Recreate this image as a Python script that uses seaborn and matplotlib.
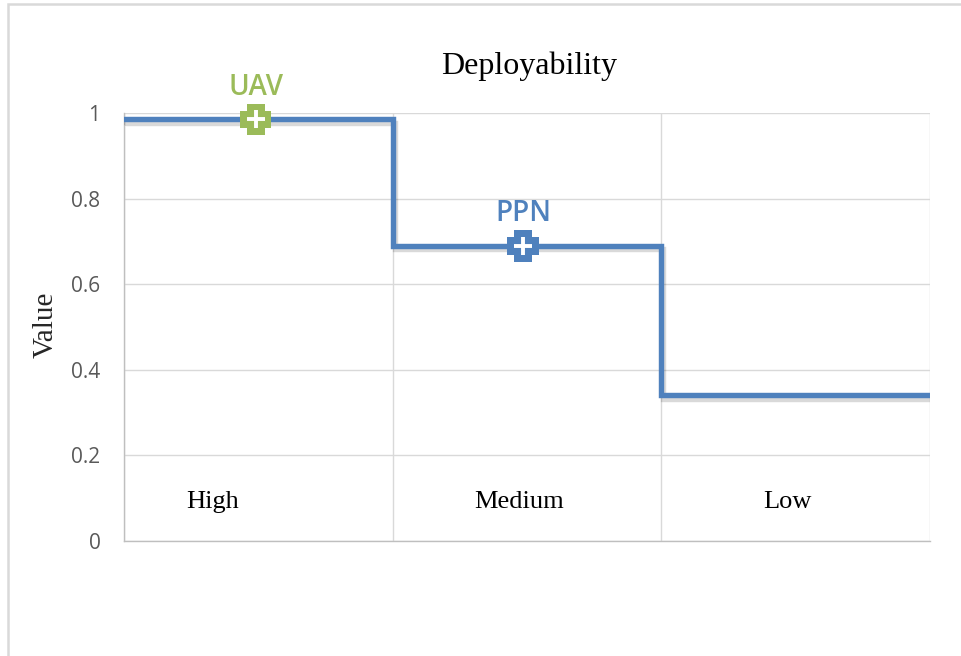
import matplotlib
matplotlib.use("Agg")
import numpy as np
import pandas as pd
import matplotlib.pyplot as plt
import matplotlib.patheffects as pe
from matplotlib.patches import Rectangle
from matplotlib.path import Path
import seaborn as sns

# data
levels = ["High", "Medium", "Low"]
level_values = [0.985, 0.69, 0.34]
level_label_x = [0.33, 1.47, 2.47]
level_label_y = 0.09
systems = ["UAV", "PPN"]
system_x = [0.49, 1.485]
system_values = [0.985, 0.69]
system_colors = ["#9BBB59", "#4F81BD"]
y_ticks = [0, 0.2, 0.4, 0.6, 0.8, 1]
y_tick_labels = ["0", "0.2", "0.4", "0.6", "0.8", "1"]

line_color = "#4F81BD"
grid_color = "#D9D9D9"

# chunky excel style plus marker
a, b = 0.28, 0.5
plus_path = Path([(-a, b), (a, b), (a, a), (b, a), (b, -a), (a, -a), (a, -b),
                  (-a, -b), (-a, -a), (-b, -a), (-b, a), (-a, a), (-a, b)], closed=True)

sns.set_theme(style="white")
plt.rcParams["font.family"] = ["Liberation Serif", "DejaVu Serif"]

fig = plt.figure(figsize=(9.62, 6.56), dpi=100)
ax = fig.add_axes([124 / 962, 115 / 656, 806 / 962, 428 / 656])

# step line: one flat segment per level
step_df = pd.DataFrame({
    "x": np.arange(len(levels) + 1),
    "value": level_values + level_values[-1:],
})
sns.lineplot(data=step_df, x="x", y="value", ax=ax, color=line_color, lw=3.9,
             drawstyle="steps-post", solid_joinstyle="miter", zorder=3,
             path_effects=[pe.SimpleLineShadow(offset=(1.5, -2.5), alpha=0.15, shadow_color="black"),
                           pe.Normal()])

sys_df = pd.DataFrame({"system": systems, "x": system_x, "value": system_values})
sns.scatterplot(data=sys_df, x="x", y="value", hue="system",
                palette=dict(zip(systems, system_colors)), marker=plus_path, s=520,
                linewidth=0, legend=False, zorder=5, clip_on=False, ax=ax)
ax.scatter(sys_df["x"], sys_df["value"], marker="+", s=150, c="white",
           linewidths=2.8, zorder=6, clip_on=False)

for name, x, v, c in zip(sys_df["system"], sys_df["x"], sys_df["value"], system_colors):
    ax.annotate(name, (x, v), xytext=(0, 23), textcoords="offset points",
                ha="center", va="center", color=c, fontsize=20, fontweight=600,
                family=["Open Sans", "DejaVu Sans"], annotation_clip=False)

for lx, lev in zip(level_label_x, levels):
    ax.text(lx, level_label_y, lev, ha="center", va="center", fontsize=19, color="black")

ax.set_xlim(0, len(levels))
ax.set_ylim(0, 1)
ax.set_xticks(np.arange(len(levels) + 1))
ax.set_xticklabels([])
ax.set_yticks(y_ticks)
ax.set_yticklabels(y_tick_labels)
for lab in ax.get_yticklabels():
    lab.set_fontfamily(["Open Sans", "DejaVu Sans"])
ax.tick_params(axis="both", length=0, pad=17, labelsize=15, labelcolor="#595959")
ax.grid(True, color=grid_color, lw=1)
ax.set_axisbelow(True)
for side in ["top", "right"]:
    ax.spines[side].set_visible(False)
for side in ["left", "bottom"]:
    ax.spines[side].set_color("#BFBFBF")
    ax.spines[side].set_linewidth(1)
ax.set_xlabel("")
ax.set_ylabel("Value", fontsize=21, va="center")
ax.yaxis.set_label_coords(-78 / 806, 0.505)
ax.text(0.503, (541 - 66) / 428, "Deployability", transform=ax.transAxes,
        ha="center", va="center", fontsize=23, color="black")

# outer chart border (cut off at right and bottom)
fig.add_artist(Rectangle((8 / 962, -0.1), 1.2, 1.1 - 4 / 656, transform=fig.transFigure,
                         fill=False, ec=grid_color, lw=1.8, clip_on=False))

fig.savefig("out.png", dpi=100)
